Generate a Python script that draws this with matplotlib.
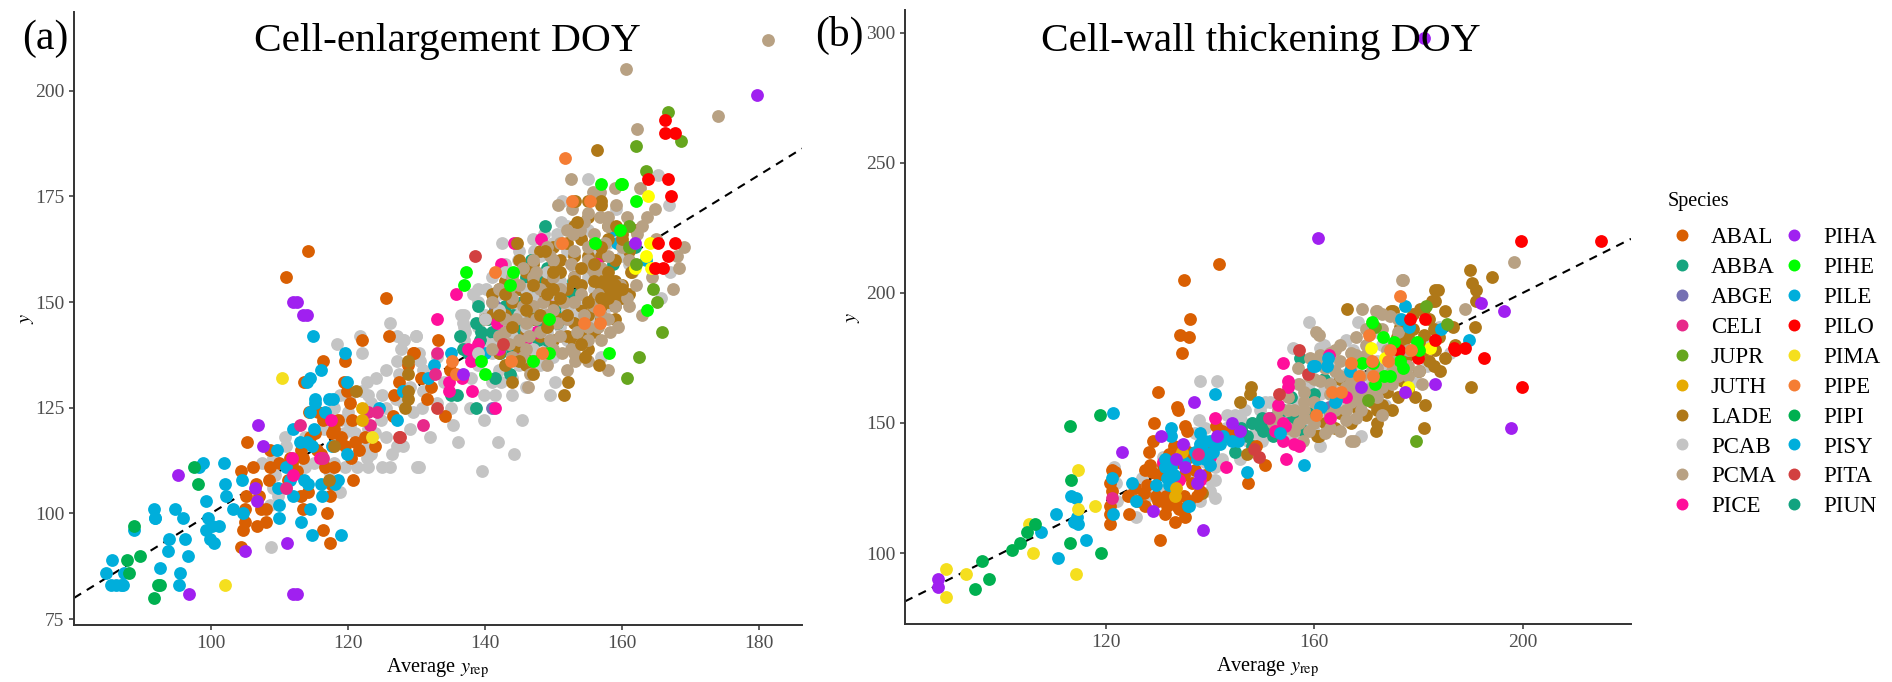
import numpy as np
import matplotlib
matplotlib.use("Agg")
import matplotlib.pyplot as plt
from matplotlib.lines import Line2D

plt.rcParams["font.family"] = ["Liberation Serif", "DejaVu Serif"]
plt.rcParams["mathtext.fontset"] = "stix"

species = ["ABAL", "ABBA", "ABGE", "CELI", "JUPR", "JUTH", "LADE", "PCAB", "PCMA", "PICE",
           "PIHA", "PIHE", "PILE", "PILO", "PIMA", "PIPE", "PIPI", "PISY", "PITA", "PIUN"]
colors = {"ABAL": "#D95F02", "ABBA": "#16A57F", "ABGE": "#7570B3", "CELI": "#E7298A",
          "JUPR": "#66A61E", "JUTH": "#E6AB02", "LADE": "#AF7818", "PCAB": "#C4C4C4",
          "PCMA": "#B8A183", "PICE": "#FF0F9B", "PIHA": "#A020F0", "PIHE": "#00FF00",
          "PILE": "#00AEDB", "PILO": "#FF0000", "PIMA": "#F5DF1E", "PIPE": "#F57D34",
          "PIPI": "#00B050", "PISY": "#00AEDB", "PITA": "#D24040", "PIUN": "#12A37F"}

# (a) values, (average y_rep, y)
pcab_a = [(155.1,179),(165.3,180),(151.2,174),(159.2,172),(166.9,173),(151.1,169),(142.5,164),(148.6,166),
    (150.5,166),(144.9,160),(147.1,162),(138.2,152),(140.2,153),(136.5,147),(136.8,145),(137.1,143),(167,157),
    (165.7,151),(157,137),(150.3,131),(149.5,128),(144,128),(141.5,128),(139.8,128),(145.4,122),(139.8,122),
    (135.3,121),(136,117),(141.9,117),(144.3,114),(130.4,111),(139.6,110),(130,142),(128.1,141),(130.4,138),
    (130.5,136),(130.8,125),(137.8,125),(142.4,131),(126.1,145),(121.8,142),(118.4,140),(122,138),(127.2,142),
    (128.2,141),(130,142),(127.7,139),(125.5,134),(127.2,136),(127.4,133),(124.1,132),(122.8,131),(122,129),
    (123,128),(118.9,128),(120.1,127),(123.3,126),(125.5,125),(110.8,118),(113.7,118),(120.3,121),(119.4,119),
    (124.8,122),(122.9,120),(125.5,118),(122.3,116),(127.2,116),(126.5,114),(123.3,114),(122.8,113),(125,111),
    (126.2,111),(123,111),(121.3,111),(119.6,111),(130.1,111),(107.4,112),(109.1,113),(109.3,109),(109,106),
    (109.8,104),(108.6,102),(108.8,92),(113.7,111),(118.9,105),(117.2,110),(118,112),(118.7,117),(116.5,120),
    (128,126),(129.5,124),(131,129),(129,120),(132,118),(133,126),(134,131),(118,125),(120,124),
    (152,168),(155,167),(147,165),(150,164),(154,165),(158,164),(145,162),(148,161),(152,162),(156,162),(160,161),
    (143,159),(146,158),(150,159),(153,158),(157,158),(161,159),(141,156),(144,155),(148,156),(151,155),(155,156),
    (159,155),(139,153),(142,152),(145,153),(149,152),(152,152),(156,153),(139,150),(141,150),(144,149),(147,150),
    (151,149),(154,150),(158,149),(137,147),(140,147),(143,146),(146,147),(149,146),(153,147),(156,146),(137,144),
    (139,144),(142,143),(145,144),(148,143),(151,144),(155,143),(137,141),(140,141),(143,140),(146,141),(149,140),
    (152,141),(138,138),(141,138),(144,137),(147,138),(150,137),(139,135),(142,134),(145,135),(148,135),(138,132),
    (141,131),(144,132),(146,130),(112,113),(111,116),(115,112),(119,122),(121,119),(124,119),(117,123),(127,127),
    (129,130),(131,134),(133,137),(135,125),(128,116),(125,128),(113,104),(111,106)]
abba_a = [(148.8,168),(146.7,160),(145.2,153),(139,149),(138.7,145),(136.4,142),(136.8,139),(139.3,141),(143.7,133),
    (141.4,132),(135.9,128),(138.7,125),(161.9,163),(158.7,159),(146.1,145),(144.1,147),(148,145),(150.2,149),
    (149,141),(142.2,138),(152.9,155),(149,158),(145.4,150),(139.5,143),(147.8,141),(142.5,141),(137.5,138),
    (135.1,128),(147,152),(150,154),(152,151),(146,156),(140.5,146),(141,143),(144,139),(147.5,138),(150.5,145),
    (143,149),(141.5,148),(144.5,144),(147,148),(149.5,151),(151.5,147),(153.5,152),(148,155),(145,143)]
abge_a = [(141,125),(141.5,149),(142.4,140)]
lade_a = [(157,155),(158,155),(159,155),(160,154),(157,153),(158,152),(159,152),(160,151),(161,152),(156,151),(158,150),
    (159,149),(157,149),(154,154),(153,156),(152,153),(151,157),(150,158),(149,155),(148,152),(147,155),(146,157),
    (145,153),(143,155),(142,153),(141,152),(144,150),(146,149),(148,149),(150,150),(152,149),(154,149),(155,147),
    (157,146),(159,146),(153,145),(151,146),(149,146),(147,146),(143,147),(141,147),(140,146),(146,143),(148,142),
    (150,141),(152,142),(154,142),(156,143),(144,141),(145,139),(147,138),(149,138),(142,138),(143,135),(146,135),
    (153,140),(155,139),(151,160),(153,161),(155,161),(157,161),(159,160),(161,162),(156,164),(158,165),(160,166),
    (162,167),(154,165),(152,164),(150,163),(148,162),(147,159),(145,160),(155,170),(157,173),(155,174),(153,168),
    (158,168),(121.2,129),(128.7,136),(128.8,133),(128.8,129),(128.8,127),(128.4,125),(117.9,116),(117.2,108)]
pice_a = [(133,146),(135.8,152),(144.2,164),(142.3,159),(148.2,165),(134.8,129),(134.8,131),(138.1,129),(136.6,132),
    (156.3,159),(141.7,145),(142,139),(141.5,125),(138,136),(115.9,113),(111.8,113),(117.5,122),(112,109),(143,143),(150,152),
    (139,140),(137.5,139),(146,141),(147.5,143),(144.5,136.5)]
pcab_top_a = [(140,146),(142,148),(145,147),(148,149),(150,152),(147,151),(144,142),(146,144),(141,140),(139,138),(143,157),
    (146,153),(149,157),(151,154),(154,151),(152,148),(149,143),(147,139)]
pcma_a = [(181.3,212),(160.6,205),(174.1,194),(162.2,191),(162.7,177),(152.6,179),(150.6,173),(164.8,172),(163.6,170),
    (162.9,168),(162.2,166),(165,165),(169,163),(168,161),(168.3,158),(167.5,153),(162.9,147),(164.4,156),(158,134),
    (153.1,136),(146.3,130),(146.6,133),(151.2,138),(158.3,143),(160.7,151),(159.7,154),(156.8,176),(155.8,176),
    (159,177),(159.2,173),(160.7,170),(156.8,170),(152.7,172),(153.9,167),(152.9,166),(155,171),(158,168),(156,166),
    (153,162),(151,164),(149,163),(150,160),(147,160),(155,160),(158,161),(161,160),(144,156),(147,156),(150,156),
    (153,156),(156,157),(142,153),(145,154),(148,153),(151,153),(154,152),(157,147),(141,150),(144,151),(147,149),
    (150,148),(153,150),(156,149),(159,149),(143,146),(146,145),(149,147),(152,146),(155,144),(158,146),(142,142),
    (145,141),(148,143),(151,142),(154,140),(157,141),(144,137),(147,136),(150,139),(153,138),(155,136),(146,139),
    (149,135),(152,134),(143,143),(141,139),(161.5,157),(162,154),(161,149),(159.5,144),(156.5,152),(155.5,158),
    (152.5,159),(149.5,161),(147.5,157),(145.5,158),(143.5,153),(145.5,149),(148.5,150),(151.5,150),(154.5,147),
    (156.5,144),(153.5,143),(150.5,145),(147.5,146),(144.5,146),(143.5,140),(146.5,142),(149.5,141),(152.5,139),
    (155,141),(148.5,138),(145.5,137),(157.5,164),(155,163),(152,167),(154.5,169),(158,170),(160,163),(157,158)]
lade_top_a = [(156.3,186),(144.7,164),(152.2,131),(151.5,128),(154.6,137),(156.6,135),(154.1,140),(148.8,162),(153.4,169),
    (157,174),(153.1,174),(161.4,157),(159.2,168),(160,165),(157,163),(158,154),(159,154),(156,155),(160,153),(157,151),
    (158,151),(153,155),(150,157),(147,154),(143,152),(146,148),(151,151),(149,144),(145,136),(147,133),(144,131),
    (154,158),(149,152),(152,147),(155,150),(142,147),(144,144),(148,147),(150,153),(146,151),(156,159),(158,157)]
abal_a = [(114.1,162),(111,156),(125.6,151),(126,142),(122,141),(116.4,136),(119.5,136),(113.6,131),(119.4,131),(127.5,131),
    (119.9,129),(120.3,126),(126.7,128),(114.3,124),(115.7,124),(126.6,123),(116.4,122),(118.6,122),(117.6,119),
    (120.6,122),(115.2,119),(105.3,117),(108.6,115),(113.2,115),(115.5,115),(121,117),(121.6,115),(124,116),(106.2,111),
    (104.4,110),(108.6,111),(111.5,113),(111.8,112),(116.7,111),(120.8,108),(106.6,107),(108.5,108),(111.3,108),
    (117.5,107),(105.1,104),(107,104),(114.2,105),(113.2,104),(117.4,104),(105,101),(108.1,101),(107.3,101),(113.5,101),
    (117,100),(104.9,98),(104.7,96),(106.7,97),(108.1,98),(116.3,96),(117.4,93),(104.4,92),(133.1,141),(134.2,123),
    (132.1,130),(131.5,127),(130.8,132),(134.9,134),(129.5,138),(128.8,135),(129.6,138),(130.6,132),(117.9,120),(119,118),
    (114.5,118),(116,114),(113.5,113),(110,112),(112.5,110),(118,111),(119.5,116),(122.5,118),(120.5,113)]
pisy_a = [(85.5,89),(84.7,86),(85.4,83),(86.1,83),(86.8,83),(87.1,83),(87.3,86),(88.8,96),(91.7,101),(91.8,99),(91.9,99),
    (93.9,94),(93.7,91),(92.6,87),(94.8,101),(95.9,99),(96.2,94),(96.6,90),(95.5,86),(95.3,83),(99.3,103),(98.8,112),
    (98.3,111),(99.5,99),(99.3,96),(99.8,94),(100.4,93),(101.1,97),(100.2,97),(101.9,112),(102,107),(102.2,104),
    (103.2,101),(104.7,100),(104.6,108),(109.9,99),(110,102),(109.8,106),(109.7,115),(113.2,98),(114.7,95),(114.5,101),
    (119,95),(112,104),(111,111),(111.5,108),(113.6,108),(114.2,107),(116,107),(116.2,104),(118.1,107),(118.6,108),
    (112,120),(113,117),(114,117),(114.7,116),(115,120),(114.5,124),(115.2,127),(115.2,126),(117.2,127),(117.8,127),
    (116.7,124),(114.5,132),(114,131),(116,134),(114.9,142),(119.5,138),(119.9,131),(119.9,114),(117.6,116),(124.5,125),
    (127.2,122),(128,129),(159.3,164),(158.7,167),(163.5,160),(143.4,155),(132.6,135),(135.1,138),(131.7,132),(128.1,129),
    (140,138),(146,143),(149,144),(142,142)]
celi_a = [(113,121),(110.9,106),(116.4,113),(123.2,121),(123,124),(124.3,124),(130.9,121),(133,138),(132.7,133)]
juth_a = [(122,125),(122,122)]
jupr_a = [(166.7,195),(168.6,188),(162.1,187),(163.5,181),(161.1,168),(162,159),(164.6,153),(165.1,150),(165.8,143),
    (162.5,137),(160.7,132),(161,163)]
piha_a = [(95.2,109),(106.9,121),(107.6,116),(106.5,106),(106.7,103),(104.9,91),(96.8,81),(112,81),(112.5,81),(111.1,93),
    (112,150),(112.6,150),(113.5,147),(114,147),(179.8,199),(161.9,164),(136.8,133)]
pihe_a = [(137.2,157),(136.9,154),(144.1,157),(143.7,154),(149.4,146),(139.5,136),(140,133),(147,136),(149.3,138),
    (158.1,138),(163.6,148),(156.1,164),(159.7,167),(162,174),(157,178),(159.8,178),(160,178)]
pilo_a = [(166.3,193),(166.3,190),(167.7,190),(163.8,179),(166.8,179),(167.2,175),(165.3,164),(167.7,164),(166.8,161),
    (164.8,158),(166,158)]
pima_a = [(110.4,132),(102.1,83),(123.5,118)]
bright_a = [(163.8,175),(164.1,164),(163.5,161),(161.9,158),(164.3,158)]
pipe_a = [(151.7,184),(152.7,174),(155.3,174),(151.2,164),(141.5,157),(156.6,148),(154.4,145),(156.8,145),(148.3,138),
    (143.8,136),(135.2,136),(135.8,133)]
pipi_a = [(88.7,97),(97.5,111),(98.1,107),(89.6,90),(87.7,89),(88,86),(92.2,83),(92.6,83),(91.7,80)]
pita_a = [(127.5,118),(138.5,161),(133,125),(127.6,118),(142.7,140)]

# (b)
pcab_b = [(138,166),(141.4,166),(137.9,151),(143.2,153),(144.8,153),(146.7,155),(141,121),(141,128),(141,133),(142.2,136),
    (145.7,136),(147.3,143),(148.6,146),(149.6,155),(150.5,158),(151.5,158),(154,155),(155,153),(155.3,147),(156,146),
    (159,189),(168.4,189),(155.9,179),(161,179),(161.8,180),(166,182),(167.5,178),(167.8,176),(169,145),(161,141),
    (181.7,172),(179.3,166),(181.2,183),(184,187),(156.9,165),(154.7,153),(166.8,151),(173.5,157),(121.5,133),(122,127),
    (122.2,120),(125.8,114),(128,122),(127,129),(129,132),(131,137),(134,136),(136,131),(139,135),(140,128),(138,142),
    (142,143),(137,146),(139,148),(133,130),(131,124),(145,146),(148,150),(152,148),(150,143),(157,156),(158,160),
    (160,158),(162,163),(164,166),(166,169),(159,165),(163,172),(168,171),(170,176),(173,180),(172,185),(176,182),(175,170),
    (171,166),(169,160),(165,158),(161,152),(158,149),(155,145),(178,170),(180,176),(186,177),(143,148),(146,151),(151,152),
    (153,150),(156,158),(159,154),(161,161),(164,160),(167,161),(165,164),(168,167),(172,174),(174,172),(163,150),(160,147),
    (135,141),(132,126),(140,124),(138,120),(125,123)]
abba_b = [(155.5,160),(149.6,149),(150.2,147),(144.8,139),(151.8,152),(157.3,175),(161.8,167),(155.3,160),(158.8,154),
    (150.2,148),(172.3,163),(153,148),(156,152),(147,145),(148,141),(160,161),(163,154),(146,148),(152,145),(155,150),
    (158,147),(148,150),(150,152),(154,155)]
lade_b = [(189.9,209),(194.2,206),(190.2,204),(191,201),(183.7,201),(183.2,197),(191,197),(181,194),(185.1,193),(166.2,194),
    (175.1,193),(190.8,187),(186.6,187),(187.1,180),(185.1,175),(183.2,178),(184.2,170),(190.1,164),(179.3,160),(181.2,157),
    (181,148),(172,150),(171.8,147),(160.8,145),(147.8,164),(147.6,161),(145.7,158),(147.1,138),(138.4,123),(174.8,193),
    (183.1,201),(182.5,197),(180.2,194),(176.4,187),(175.8,183),(178,183),(177,180),(179,186),(181,184),(183,186),(180,181),
    (182,174),(180,170),(177,166),(174,162),(171,158),(168,156),(165,154),(162,150),(170,153),(173,157),(176,160),
    (164.9,167),(160.5,145),(178,176),(175,176),(179,192),(177,189),(182,190),(184,183),(181,178),(183,172),(178,163),
    (175,155),(172,155),(167,150),(164,148)]
pcma_b = [(198.4,212),(177.1,205),(169.2,194),(172,193),(160.3,185),(160.8,184),(167.6,143),(189,194),(176.9,205),(171.9,193),
    (159.1,175),(156.9,171),(180.6,165),(167.1,143),(172.9,153),(157.9,143),(174.5,191),(173,192),(176,190),(170,186),(168,183),
    (165,180),(163,177),(161,173),(159,168),(157,165),(155,160),(153,155),(152,150),(155,148),(158,152),(160,158),(163,161),
    (166,164),(169,168),(172,171),(175,174),(178,172),(176,168),(173,164),(170,161),(167,158),(164,155),(161,156),(158,158),
    (156,155),(159,147),(163,148),(166,151),(169,155),(172,160),(175,165),(178,168),(170,176),(167,172),(164,170),(161,166),
    (163,165),(167,166),(171,170),(174,178),(168,176),(165,174),(158,162),(160,167),(162,171),(165,168),(168,162),(171,164),
    (174,168),(177,172),(180,170),(157,150),(160,150),(163,153),(166,155),(169,158),(172,166),(175,170),(178,178),(176,185),
    (173,186),(170,180),(167,177),(164,178),(161,176),(158,155),(155,155),(153,151),(156,147),(162,146),(165,147),(168,152)]
abal_b = [(120.7,111),(120.8,115),(120.8,118),(121.1,124),(120.8,127),(121.1,132),(121.8,131),(124.5,115),(130.4,105),
    (130,162),(129.2,150),(129.1,143),(128.2,139),(128.5,134),(127.5,132),(128.8,131),(127.8,126),(127.2,123),(127.5,118),
    (125.6,125),(124.3,122),(131.4,115),(131.7,118),(133.3,112),(135.1,114),(133.6,156),(133.8,155),(135.2,149),(135.5,147),
    (134.9,205),(136.2,190),(134.2,184),(136,183),(134.6,177),(141.6,211),(133.6,118),(134.9,122),(136.5,127),(132,138),
    (135.7,139),(132,121),(148.8,141),(150.5,134),(147.2,127),(141.2,149),(142.2,147),(143,145),(139,130),(134,135),
    (138,124),(136,120),(133,128),(130,130),(131,134),(136,137),(137,132),(129.5,122),(131.5,122),(135,130),(137.5,122),
    (133,141),(139,137),(140,141),(144,147),(134,117),(126,120),(130,120)]
pile_b = [(107.5,108),(110.4,115),(110.7,98),(113.3,122),(114.3,121),(114.4,114),(113.8,112),(114.7,111),(116.2,105),
    (121.4,154),(121.1,129),(121.3,115),(125,127),(125.8,120),(129.6,126),(131.4,136),(131.4,133),(131.7,129),(132.4,148),
    (132.4,145),(135.8,118),(141,161),(132,126),(138.1,142),(139,143),(139.7,138),(137.4,136),(141.3,142),(147,131),
    (149.2,158),(141.9,142),(144.1,143),(145.4,143),(153.4,146),(140,134),(138,139),(136,118),(138.5,140),(140,143),
    (137,139),(139,136),(140.5,139),(142.5,145),(135,135),(133,130),(132.5,133),(138,146),
    (177.5,195),(176.6,190),(178.2,187),(184.4,186),(189.7,182),(162.7,175),(160.1,172),(162.5,172),(158.1,134),(164.2,159),
    (161.3,156),(159.8,172),(161,156),(163.9,158),(166.8,170)]
pice_b = [(140.9,152),(155,166),(153.1,157),(154.4,149),(154,143),(156,142),(154.5,136),(153.9,173),(155,164),(162.8,176),
    (154,150),(131,135),(138,128),(134,128),(140,137),(143,133),(152.5,147),(157,141),(163,152),(166,160)]
piha_b = [(87.7,90),(87.7,87),(123,139),(130.6,145),(136.8,158),(138.7,109),(129.1,116),(134.7,142),(135.2,133),(137.4,127),
    (138,130),(133.5,136),(144.2,150),(145.8,147),(141.4,145),(160.7,221),(181,298),(192,196),(196.5,193),(197.8,148),
    (183.2,165),(177.5,162),(169,164)]
pihe_b = [(171,189),(173.2,183),(175.3,181),(179.7,181),(180,178),(169.2,173),(171.3,173),(176.4,174),(177,171),(173.3,168),
    (174.6,168),(171.6,165)]
pilo_b = [(215,220),(199.7,220),(192.6,175),(199.8,164),(186.9,179),(187,178),(189,179),(181.2,190),(183.2,182),(179.9,175),
    (178.3,190),(176.2,178)]
pima_b = [(89.3,94),(89.3,83),(93.1,92),(105.9,100),(105.3,111),(114.7,132),(114.6,117),(117.8,118),(114.3,92)]
bright_b = [(170.8,179),(173.5,175),(178,164),(182.2,179)]
pipe_b = [(176.4,199),(170.5,184),(174.5,178),(174.2,174),(178.5,178),(167.1,173),(168.5,168),(171.3,168),(163.3,162),
    (165.2,162),(160.3,153),(171,174)]
pipi_b = [(94.9,86),(97.5,90),(96.1,97),(101.9,101),(103.4,104),(104.8,108),(106.4,111),(113,149),(118.9,153),(113.2,128),
    (113,104),(119.1,100)]
pita_b = [(153.2,161),(149.4,137),(148.5,140),(158.8,169),(157.1,178)]
celi_b = [(121.1,121),(137.6,138),(151.3,152)]
abge_b = [(162.8,156)]
juth_b = [(134.5,139),(133.4,125),(133.2,122)]
jupr_b = [(181.5,195),(171.6,187),(170.3,159),(179.5,143),(185.4,188)]

def draw(ax, layers):
    for name, pts, col in layers:
        xy = np.array(pts)
        c = col if col else colors[name]
        ax.scatter(xy[:, 0], xy[:, 1], s=85, c=c, linewidths=0, zorder=3)

fig = plt.figure(figsize=(18.92, 6.82), dpi=100)
ax1 = fig.add_axes([74/1892, 1-625/682, 728/1892, 613/682])
ax2 = fig.add_axes([905/1892, 1-624/682, 726/1892, 614/682])

draw(ax1, [("PCAB", pcab_a, None), ("ABBA", abba_a, None), ("ABGE", abge_a, None), ("ABAL", abal_a, None),
           ("PISY", pisy_a, None), ("LADE", lade_a, None), ("PICE", pice_a, None), ("PCAB", pcab_top_a, None),
           ("PCMA", pcma_a, None), ("LADE", lade_top_a, None), ("CELI", celi_a, None), ("JUTH", juth_a, None),
           ("PITA", pita_a, None), ("PIMA", pima_a, None), ("PIMA", bright_a, "#FFFF00"), ("JUPR", jupr_a, None),
           ("PILO", pilo_a, None), ("PIPI", pipi_a, None), ("PIHE", pihe_a, None), ("PIPE", pipe_a, None),
           ("PIHA", piha_a, None)])
draw(ax2, [("PCAB", pcab_b, None), ("ABBA", abba_b, None), ("ABGE", abge_b, None), ("LADE", lade_b, None),
           ("PCMA", pcma_b, None), ("ABAL", abal_b, None), ("PICE", pice_b, None), ("PITA", pita_b, None),
           ("PILE", pile_b, None), ("CELI", celi_b, None), ("JUTH", juth_b, None), ("JUPR", jupr_b, None),
           ("PIMA", pima_b, None), ("PIMA", bright_b, "#FFFF00"), ("PILO", pilo_b, None), ("PIPI", pipi_b, None),
           ("PIHE", pihe_b, None), ("PIPE", pipe_b, None), ("PIHA", piha_b, None)])

ax1.set_xlim(80, 186.3)
ax1.set_ylim(73.6, 218.6)
ax2.set_xlim(81.4, 220.8)
ax2.set_ylim(72.7, 308.8)
ax1.set_xticks([100, 120, 140, 160, 180])
ax1.set_yticks([75, 100, 125, 150, 175, 200])
ax2.set_xticks([120, 160, 200])
ax2.set_yticks([100, 150, 200, 250, 300])

for ax, ypad in [(ax1, -1), (ax2, 2.5)]:
    ax.axline((100, 100), slope=1, color="black", ls=(0, (4, 3.2)), lw=1.5, zorder=2)
    ax.spines["top"].set_visible(False)
    ax.spines["right"].set_visible(False)
    ax.spines["left"].set_linewidth(1.4)
    ax.spines["bottom"].set_linewidth(1.4)
    ax.spines["left"].set_color("#333333")
    ax.spines["bottom"].set_color("#333333")
    ax.tick_params(labelsize=14, labelcolor="#4D4D4D", color="#333333", width=1.1, length=3.5)
    ax.set_xlabel(r"Average $\mathit{y}_{\mathrm{rep}}$", fontsize=14.7, labelpad=3)
    ax.set_ylabel(r"$\mathit{y}$", fontsize=14.7, labelpad=ypad)

fig.text(447/1892, 1-42/682, "Cell-enlargement DOY", fontsize=29.8, ha="center", va="center")
fig.text(1261/1892, 1-41/682, "Cell-wall thickening DOY", fontsize=29.8, ha="center", va="center")
fig.text(22/1892, 1-39/682, "(a)", fontsize=30, ha="left", va="center")
fig.text(815/1892, 1-35/682, "(b)", fontsize=30, ha="left", va="center")

handles = [Line2D([], [], ls="", marker="o", ms=8.6, color=colors[s], mew=0) for s in species]
leg = fig.legend(handles, species, ncol=2, loc="upper left", bbox_to_anchor=(1649/1892, 1-174/682), frameon=False,
                 fontsize=16.5, title="Species", title_fontsize=14.5, alignment="left", labelspacing=0.39,
                 handlelength=1.25, handletextpad=0.65, columnspacing=0.17, borderpad=0.3)
leg._legend_box.sep = 11

fig.savefig("out.png", dpi=100)
